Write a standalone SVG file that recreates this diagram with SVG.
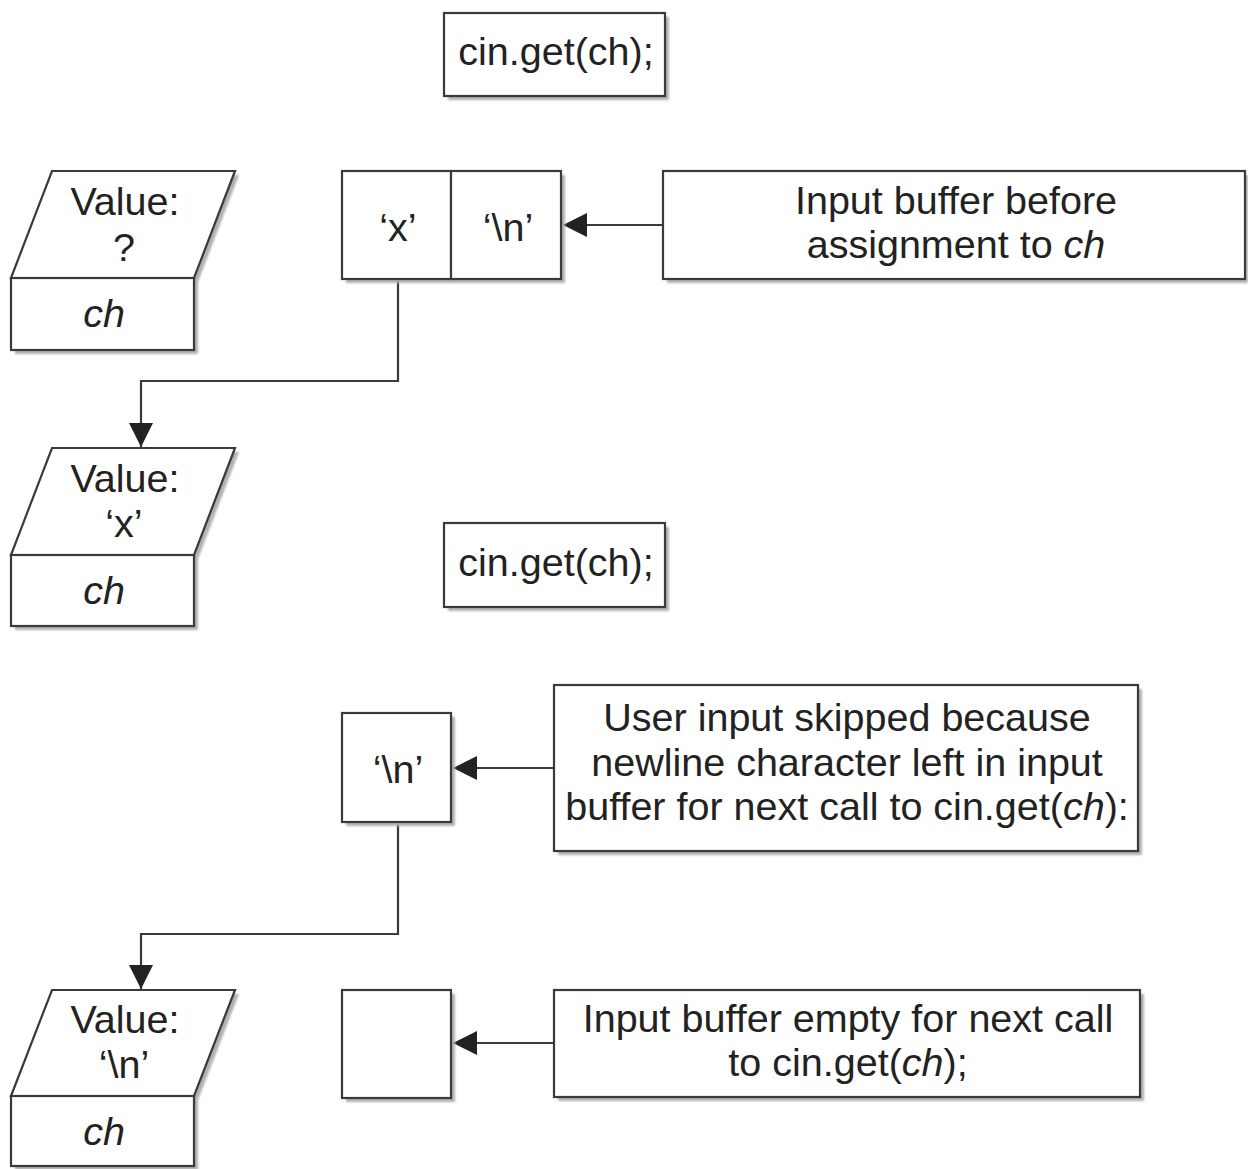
<svg xmlns="http://www.w3.org/2000/svg" width="1248" height="1169" viewBox="0 0 1248 1169">
<style>
.box{fill:#fff;stroke:#3a3a3a;stroke-width:2.2}
.sh{fill:#b0b0b0;filter:url(#blur)}
.t{font-family:"Liberation Sans",Arial,sans-serif;font-size:39.5px;fill:#222;text-anchor:middle}
.i{font-style:italic}
.ln{fill:none;stroke:#3a3a3a;stroke-width:2.2}
</style>
<defs>
<filter id="blur" x="-10%" y="-10%" width="120%" height="120%"><feGaussianBlur stdDeviation="1.2"/></filter>
<marker id="ah" viewBox="0 0 24 24" refX="24" refY="12" markerWidth="24" markerHeight="24" markerUnits="userSpaceOnUse" orient="auto">
<path d="M0,0 L24,12 L0,24 Z" fill="#222"/>
</marker>
</defs>
<rect width="1248" height="1169" fill="#fff"/>

<g id="connectors">
<path class="ln" d="M663,225 H563" marker-end="url(#ah)"/>
<path class="ln" d="M398,279 V381 H141 V447" marker-end="url(#ah)"/>
<path class="ln" d="M554,768 H453" marker-end="url(#ah)"/>
<path class="ln" d="M398,822 V934 H141 V989" marker-end="url(#ah)"/>
<path class="ln" d="M554,1043 H453" marker-end="url(#ah)"/>
</g>

<g id="call1">
<rect class="sh" x="448" y="17" width="221" height="83"/>
<rect class="box" x="444" y="13" width="221" height="83"/>
<text class="t" x="556" y="65">cin.get(ch);</text>
</g>

<g id="var1">
<path class="sh" d="M56,175 H239 L198,282 V354 H15 V282 Z"/>
<path class="box" d="M52,171 H235 L194,278 H11 Z"/>
<rect class="box" x="11" y="278" width="183" height="72"/>
<text class="t" x="125" y="215">Value:</text>
<text class="t" x="124" y="261">?</text>
<text class="t i" x="104" y="327">ch</text>
</g>

<g id="buffer1">
<rect class="sh" x="346" y="175" width="219" height="108"/>
<rect class="box" x="342" y="171" width="109" height="108"/>
<rect class="box" x="451" y="171" width="110" height="108"/>
<text class="t" x="398" y="241">‘x’</text>
<text class="t" x="508" y="241">‘\n’</text>
</g>

<g id="label1">
<rect class="sh" x="667" y="175" width="581" height="108"/>
<rect class="box" x="663" y="171" width="582" height="108"/>
<text class="t" x="956" y="214">Input buffer before</text>
<text class="t" x="956" y="258">assignment to <tspan class="i">ch</tspan></text>
</g>

<g id="var2">
<path class="sh" d="M56,452 H239 L198,559 V630 H15 V559 Z"/>
<path class="box" d="M52,448 H235 L194,555 H11 Z"/>
<rect class="box" x="11" y="555" width="183" height="71"/>
<text class="t" x="125" y="492">Value:</text>
<text class="t" x="124" y="537">‘x’</text>
<text class="t i" x="104" y="604">ch</text>
</g>

<g id="call2">
<rect class="sh" x="448" y="527" width="221" height="84"/>
<rect class="box" x="444" y="523" width="221" height="84"/>
<text class="t" x="556" y="576">cin.get(ch);</text>
</g>

<g id="buffer2">
<rect class="sh" x="346" y="717" width="109" height="109"/>
<rect class="box" x="342" y="713" width="109" height="109"/>
<text class="t" x="398" y="783">‘\n’</text>
</g>

<g id="label2">
<rect class="sh" x="558" y="689" width="584" height="166"/>
<rect class="box" x="554" y="685" width="584" height="166"/>
<text class="t" x="847" y="731">User input skipped because</text>
<text class="t" x="847" y="776">newline character left in input</text>
<text class="t" x="847" y="820">buffer for next call to cin.get(<tspan class="i">ch</tspan>):</text>
</g>

<g id="var3">
<path class="sh" d="M56,994 H239 L198,1100 V1170 H15 V1100 Z"/>
<path class="box" d="M52,990 H235 L194,1096 H11 Z"/>
<rect class="box" x="11" y="1096" width="183" height="70"/>
<text class="t" x="125" y="1033">Value:</text>
<text class="t" x="124" y="1078">‘\n’</text>
<text class="t i" x="104" y="1145">ch</text>
</g>

<g id="buffer3">
<rect class="sh" x="346" y="994" width="109" height="108"/>
<rect class="box" x="342" y="990" width="109" height="108"/>
</g>

<g id="label3">
<rect class="sh" x="558" y="994" width="586" height="107"/>
<rect class="box" x="554" y="990" width="586" height="107"/>
<text class="t" x="848" y="1032">Input buffer empty for next call</text>
<text class="t" x="848" y="1076">to cin.get(<tspan class="i">ch</tspan>);</text>
</g>
</svg>
